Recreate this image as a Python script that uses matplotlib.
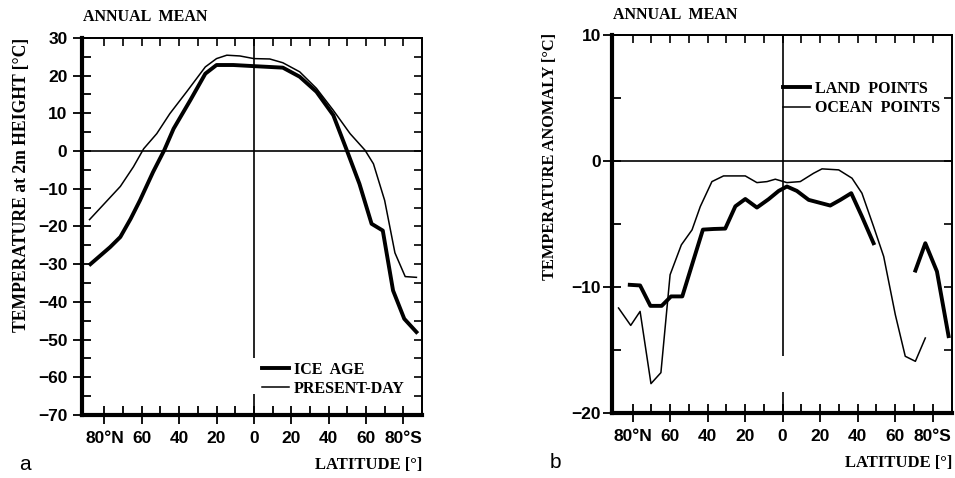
import numpy as np
from matplotlib import pyplot as plt

# latitudes: north positive, south negative
ice_lat = [87.5, 77, 71.5, 66, 61, 54, 48, 43, 34, 26, 20, 11, 0, -15.5, -24.5,
           -33.5, -42.5, -49.5, -56.5, -63, -69, -74.5, -80.5, -87]
ice_temp = [-30, -25.5, -22.8, -18, -13.1, -5.6, 0.2, 5.9, 13.5, 20.5, 22.8, 22.8,
            22.5, 22.1, 19.7, 15.7, 9.5, 0.5, -8.7, -19.3, -21.1, -37, -44.5, -48]

pd_lat = [88, 71.5, 64.5, 59, 52, 45, 36, 26, 20, 14.5, 7.5, 0, -8.5, -15.5, -24.5,
          -33.5, -42.5, -51.5, -59.5, -64, -70, -75.5, -81, -87]
pd_temp = [-18.2, -9.4, -4.2, 0.6, 4.6, 9.9, 15.7, 22.3, 24.5, 25.4, 25.2, 24.5,
           24.4, 23.4, 21.0, 16.6, 10.8, 4.6, 0.2, -3.4, -13.1, -27.0, -33.3, -33.5]

# land has no values between ~50S and ~70S
land_lat = [81.5, 76, 70.5, 64.5, 59.5, 53.5, 47.5, 42.5, 36.8, 30.6, 25.2, 19.9,
            13.7, 7.5, 2.1, -2.3, -7.6, -13.9, -25.4, -30.8, -36.6, -42.3, -48.5,
            np.nan, -70.8, -76.1, -82.3, -88.5]
land_anom = [-9.83, -9.88, -11.5, -11.5, -10.75, -10.75, -7.85, -5.45, -5.4, -5.37,
             -3.6, -3.02, -3.7, -3.04, -2.38, -2.03, -2.38, -3.09, -3.54, -3.09,
             -2.56, -4.41, -6.53, np.nan, -8.7, -6.53, -8.77, -13.9]

ocean_lat = [87.5, 81, 76, 70.2, 64.9, 60, 54, 48.3, 43.9, 37.7, 31.5, 19.9, 13.7,
             8.3, 3.9, -2.3, -9.4, -16.5, -21, -29.9, -37, -42.3, -48.5, -53.9,
             -60.1, -65.4, -70.8, -76.1]
ocean_anom = [-11.67, -13.05, -11.94, -17.67, -16.8, -9.03, -6.66, -5.47, -3.62,
              -1.64, -1.19, -1.19, -1.72, -1.64, -1.45, -1.72, -1.64, -0.98, -0.63,
              -0.71, -1.37, -2.56, -5.2, -7.58, -12.2, -15.5, -15.9, -14.05]

lat_ticks = [80, 60, 40, 20, 0, -20, -40, -60, -80]
lat_labels = ['80°N', '60', '40', '20', '0', '20', '40', '60', '80°S']
lat_minor = [70, 50, 30, 10, -10, -30, -50, -70]

SERIF = 'Liberation Serif'
plt.rcParams['font.family'] = 'Liberation Sans'
plt.rcParams['font.weight'] = 'bold'


def style_panel(ax, xlim, ylim, ymajor, yminor, yright, ypad):
    ax.set_xlim(xlim)
    ax.set_ylim(ylim)
    ax.set_xticks(lat_ticks, lat_labels)
    ax.set_xticks(lat_minor, minor=True)
    ax.set_yticks(ymajor)
    ax.set_yticks(yminor, minor=True)
    ax.tick_params(which='major', direction='inout', length=13, width=1.3,
                   labelsize=12.5, top=False, right=False)
    ax.tick_params(which='minor', direction='in', length=6.5, width=1.3,
                   top=False, right=False)
    ax.tick_params(axis='x', pad=5)
    ax.tick_params(axis='y', pad=ypad)
    for side in ['left', 'bottom']:
        ax.spines[side].set_linewidth(3)
    for side in ['top', 'right']:
        ax.spines[side].set_linewidth(1.3)
    ax.axhline(0, color='black', lw=1.2)

    top = ax.secondary_xaxis('top')
    top.set_xticks(np.arange(-80, 81, 10))
    top.tick_params(direction='in', length=6, width=1.2, labeltop=False)
    top.spines['top'].set_linewidth(1.3)
    right = ax.secondary_yaxis('right')
    right.set_yticks(yright)
    right.tick_params(direction='in', length=5.5, width=1.2, labelright=False)
    right.spines['right'].set_linewidth(1.3)


fig = plt.figure(figsize=(9.55, 4.78), dpi=100)
ax1 = fig.add_axes([0.0859, 0.1318, 0.356, 0.789])
ax2 = fig.add_axes([0.6408, 0.136, 0.356, 0.791])

# panel a
ax1.plot(ice_lat, ice_temp, color='black', lw=2.8, label='ICE  AGE')
ax1.plot(pd_lat, pd_temp, color='black', lw=1.1, label='PRESENT-DAY')
ax1.vlines(0, -55, 30, color='black', lw=1.2)
ax1.vlines(0, -70, -64.5, color='black', lw=1.2)
style_panel(ax1, (92, -90), (-70, 30), np.arange(-70, 31, 10),
            np.arange(-65, 30, 10), np.arange(-65, 30, 5), 4)
ax1.legend(loc='lower right', bbox_to_anchor=(0.95, 0.048), frameon=False,
           borderpad=0, borderaxespad=0, handlelength=1.7, handletextpad=0.3,
           labelspacing=0.2, prop={'family': SERIF, 'weight': 'bold', 'size': 11.5})

# panel b
ax2.plot(land_lat, land_anom, color='black', lw=2.8, label='LAND  POINTS')
ax2.plot(ocean_lat, ocean_anom, color='black', lw=1.1, label='OCEAN  POINTS')
ax2.vlines(0, -15.5, 10, color='black', lw=1.2)
ax2.vlines(0, -20, -18.3, color='black', lw=1.2)
style_panel(ax2, (91, -90.3), (-20, 10), np.arange(-20, 11, 10),
            [-15, -5, 5], np.arange(-15, 10, 5), 1.5)
ax2.legend(loc='upper right', bbox_to_anchor=(0.965, 0.878), frameon=False,
           borderpad=0, borderaxespad=0, handlelength=1.7, handletextpad=0.3,
           labelspacing=0.2, prop={'family': SERIF, 'weight': 'bold', 'size': 11.5})

# titles and axis labels
fig.text(83 / 955, 1 - 17 / 478, 'ANNUAL  MEAN', family=SERIF, weight='bold',
         fontsize=11.5, ha='left', va='center')
fig.text(613 / 955, 1 - 15 / 478, 'ANNUAL  MEAN', family=SERIF, weight='bold',
         fontsize=11.5, ha='left', va='center')
fig.text(22 / 955, 1 - 38 / 478, 'TEMPERATURE at 2m HEIGHT [°C]', family=SERIF,
         weight='bold', fontsize=12.7, rotation=90, ha='center', va='top')
fig.text(550 / 955, 1 - 33 / 478, 'TEMPERATURE ANOMALY [°C]', family=SERIF,
         weight='bold', fontsize=11.8, rotation=90, ha='center', va='top')
fig.text(422 / 955, 1 - 465 / 478, 'LATITUDE [°]', family=SERIF, weight='bold',
         fontsize=12, ha='right', va='center')
fig.text(952 / 955, 1 - 463 / 478, 'LATITUDE [°]', family=SERIF, weight='bold',
         fontsize=12, ha='right', va='center')
fig.text(25 / 955, 1 - 465 / 478, 'a', fontsize=15, weight='normal',
         ha='center', va='center')
fig.text(555 / 955, 1 - 463 / 478, 'b', fontsize=15, weight='normal',
         ha='center', va='center')

fig.savefig('out.png', dpi=100)
